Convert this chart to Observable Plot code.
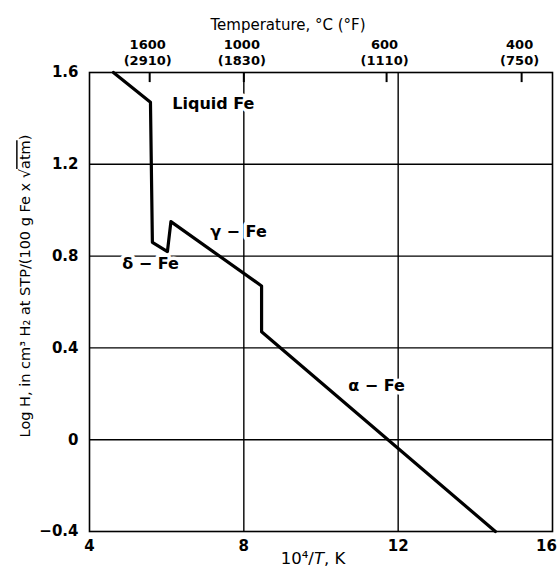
<!DOCTYPE html>
<html>
<head>
<meta charset="utf-8">
<script src="https://cdn.jsdelivr.net/npm/d3@7"></script>
<script src="https://cdn.jsdelivr.net/npm/@observablehq/plot@0.6"></script>
<style>
  html, body { margin: 0; padding: 0; background: white; }
</style>
</head>
<body>
<div id="chart"></div>
<script>
// Solubility curve vertices (10^4/T, log H)
const curveX = [4.62, 5.58, 5.63, 6.02, 6.11, 8.46, 8.46, 14.52];
const curveY = [1.60, 1.47, 0.86, 0.82, 0.95, 0.67, 0.47, -0.40];

// Bottom / left axes
const xTicks = [4, 8, 12];
const xTickLast = [16];
const yTicks = [-0.4, 0, 0.4, 0.8, 1.2, 1.6];
const xGrid = [8, 12];
const yGrid = [0, 0.4, 0.8, 1.2];

// Top temperature axis
const tempX = [5.56, 8.0, 11.7, 15.2];
const tempC = ["1600", "1000", "600", "400"];
const tempF = ["(2910)", "(1830)", "(1110)", "(750)"];

// Phase annotations
const phaseText = ["Liquid Fe", "γ − Fe", "δ − Fe", "α − Fe"];
const phaseX = [7.21, 7.86, 5.58, 11.44];
const phaseY = [1.465, 0.907, 0.768, 0.236];

const curve = curveX.map((x, i) => ({x, y: curveY[i]}));
const phases = phaseText.map((t, i) => ({t, x: phaseX[i], y: phaseY[i]}));
const tempsC = tempX.map((x, i) => ({x, label: tempC[i]}));
const tempsF = tempX.map((x, i) => ({x, label: tempF[i]}));

const fmt = d => d === 0 ? "0" : (d < 0 ? "−" + Math.abs(d).toFixed(1) : d.toFixed(1));

const chart = Plot.plot({
  width: 560,
  height: 567,
  marginLeft: 89,
  marginRight: 8,
  marginTop: 72,
  marginBottom: 36,
  style: {fontFamily: "DejaVu Sans", fontSize: "15px", fontWeight: "bold", background: "white", color: "black"},
  x: {domain: [4, 16], axis: null},
  y: {domain: [-0.4, 1.6], ticks: yTicks, tickSize: 0, tickPadding: 11, label: null, tickFormat: fmt},
  marks: [
    Plot.ruleX(xGrid, {stroke: "black", strokeWidth: 1.4}),
    Plot.ruleY(yGrid, {stroke: "black", strokeWidth: 1.4}),
    Plot.ruleX(tempX, {y1: 1.6, y2: 1.556, stroke: "black", strokeWidth: 2}),
    Plot.line(curve, {x: "x", y: "y", stroke: "black", strokeWidth: 3.2, strokeLinejoin: "round"}),
    Plot.text(phases, {x: "x", y: "y", text: "t", fontSize: 16, fontWeight: "bold", fill: "black", stroke: "white", strokeWidth: 7}),
    Plot.frame({stroke: "black", strokeWidth: 1.6}),
    // bottom tick labels
    Plot.text(xTicks, {x: d => d, y: -0.4, text: d => String(d), dy: 15, fontSize: 15, fontWeight: "bold"}),
    Plot.text(xTickLast, {x: d => d, y: -0.4, text: d => String(d), dy: 15, dx: -6, fontSize: 15, fontWeight: "bold"}),
    // top temperature labels
    Plot.text(tempsC, {x: "x", y: 1.6, text: "label", dy: -28, dx: -2, fontSize: 13, fontWeight: "bold"}),
    Plot.text(tempsF, {x: "x", y: 1.6, text: "label", dy: -12, dx: -2, fontSize: 13, fontWeight: "bold"}),
    Plot.text(["Temperature, °C (°F)"], {frameAnchor: "top", lineAnchor: "middle", dx: -33, dy: -47, fontSize: 15, fontWeight: "normal"}),
    Plot.text(["10⁴/T, K"], {frameAnchor: "bottom", lineAnchor: "middle", dx: -8, dy: 27, fontSize: 16.5, fontWeight: "normal"}),
    Plot.text(["Log H, in cm³ H₂ at STP/(100 g Fe x √atm)"], {frameAnchor: "left", textAnchor: "middle", dx: -64, dy: -16, rotate: -90, fontSize: 14.5, fontWeight: "normal"})
  ]
});

document.getElementById("chart").appendChild(chart);

// Typographic details: italic T, overline on the radicand
d3.select(chart).selectAll("text").each(function() {
  const el = d3.select(this);
  const s = this.textContent;
  if (s === "10⁴/T, K") {
    el.text(null);
    el.append("tspan").text("10⁴/");
    el.append("tspan").attr("font-style", "italic").text("T");
    el.append("tspan").text(", K");
  } else if (s === "Log H, in cm³ H₂ at STP/(100 g Fe x √atm)") {
    el.text(null);
    el.append("tspan").text("Log H, in cm³ H₂ at STP/(100 g Fe x √");
    el.append("tspan").style("text-decoration", "overline").text("atm");
    el.append("tspan").text(")");
  }
});
</script>
</body>
</html>
